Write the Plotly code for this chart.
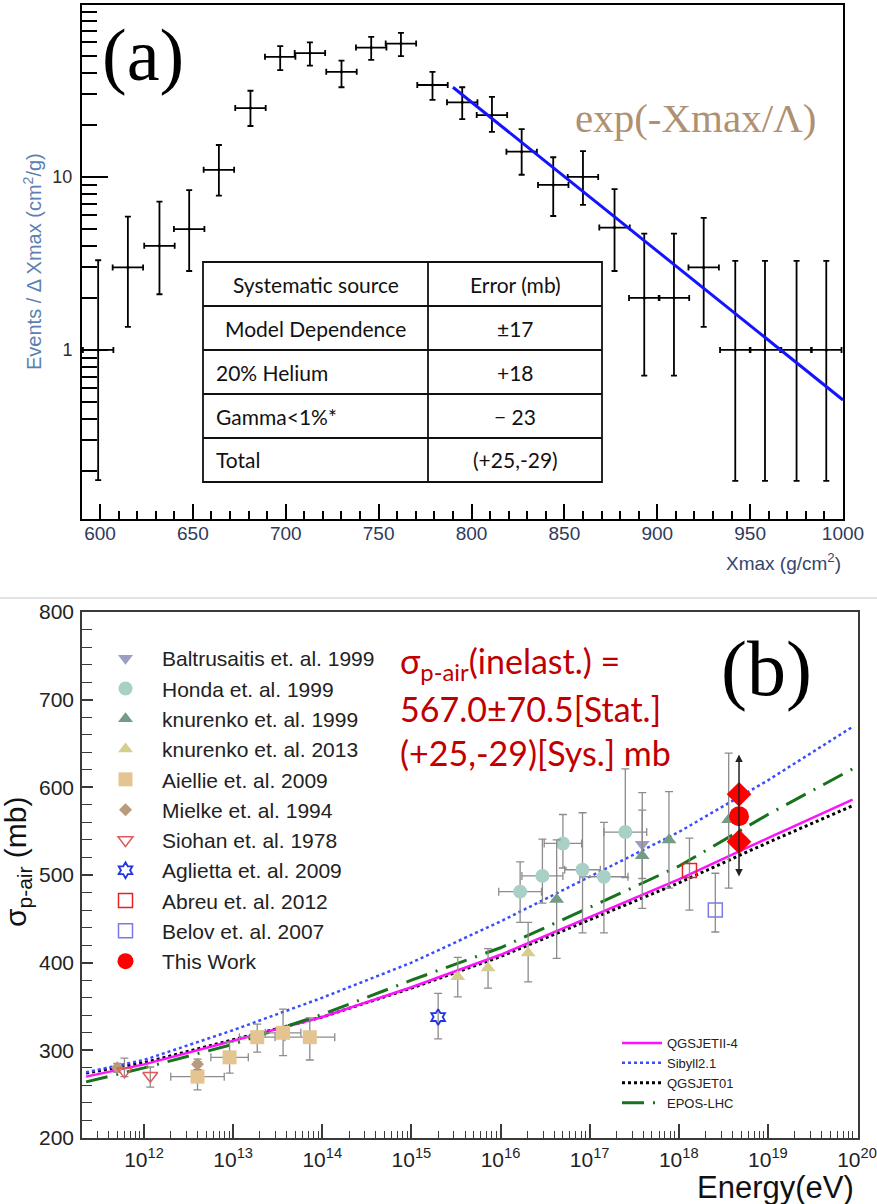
import plotly.graph_objects as go

W, H = 877, 1204
def px(x): return x / W
def py(y): return 1 - y / H

# ---------------- Panel (a) data ----------------
xmax_centers = [599, 615, 632, 648, 664, 681, 697, 713, 730, 746, 762, 779, 795,
                811, 827, 844, 860, 877, 893, 909, 925, 942, 958, 975, 991]
events = [1.0, 3.0, 4.0, 5.0, 11.0, 25.0, 49.5, 52.0, 40.5, 56.0, 59.0, 34.0, 27.0,
          22.8, 14.0, 9.0, 10.0, 5.1, 2.0, 2.0, 3.0, 1.0, 1.0, 1.0, 1.0]
events_hi = [3.3, 5.9, 7.2, 8.4, 15.3, 31.5, 57.0, 60.0, 47.0, 64.5, 68.0, 40.5, 33.0,
             29.0, 18.9, 13.0, 14.1, 8.5, 4.7, 4.7, 5.8, 3.27, 3.27, 3.27, 3.27]
events_lo = [0.177, 1.36, 2.1, 2.86, 7.8, 19.7, 41.5, 44.0, 33.0, 47.5, 50.0, 27.9, 21.6,
             18.2, 10.3, 5.95, 6.9, 2.86, 0.71, 0.71, 1.36, 0.175, 0.175, 0.175, 0.175]
bin_half_width = 8.2
fit_x = [790, 1000]
fit_y = [33.0, 0.514]

table_rows = [["Systematic source", "Error (mb)"],
              ["Model Dependence", "±17"],
              ["20% Helium", "+18"],
              ["Gamma&lt;1%*", "− 23"],
              ["Total", "(+25,-29)"]]
table_col1_align = ["center", "center", "left", "left", "left"]

# ---------------- Panel (b) data ----------------
balt_logE, balt_sig, balt_up, balt_dn = [17.59], [535], [39], [39]
honda_logE = [16.22, 16.47, 16.70, 16.92, 17.16, 17.40]
honda_sig = [481, 499, 536, 506, 498, 549]
honda_up = [34, 42, 33, 65, 62, 72]
honda_dn = [35, 31, 28, 72, 64, 52]
honda_dex = [0.24, 0.23, 0.21, 0.20, 0.27, 0.24]
kn99_logE = [16.63, 17.59, 17.89, 18.56]
kn99_sig = [472, 522, 540, 563]
kn99_up = [68, 72, 55, 76]
kn99_dn = [67, 60, 55, 78]
kn13_logE = [15.52, 15.86, 16.31]
kn13_sig = [384, 394, 411]
kn13_up = [22, 22, 35]
kn13_dn = [23, 23, 33]
aiel_logE = [12.60, 12.96, 13.27, 13.56, 13.86]
aiel_sig = [270, 292, 315, 320, 315]
aiel_up = [17, 17, 15, 27, 22]
aiel_dn = [15, 18, 17, 26, 26]
aiel_dex = [0.30, 0.21, 0.20, 0.20, 0.28]
miel_logE, miel_sig, miel_up, miel_dn = [11.70, 12.60], [280, 284], [5, 6], [5, 6]
sioh_logE, sioh_sig, sioh_up, sioh_dn = [11.78, 12.07], [276, 271], [15, 10], [6, 13]
agli_logE, agli_sig, agli_up, agli_dn = [15.30], [338], [27], [25]
abreu_logE, abreu_sig, abreu_up, abreu_dn = [18.12], [505], [37], [45]
belov_logE, belov_sig, belov_up, belov_dn = [18.41], [460], [42], [25]
this_logE, this_sig, this_stat, this_sys_up, this_sys_dn = 18.676, 567.0, 70.5, 25, 29

model_logE = [11.35, 12, 13, 14, 15, 16, 17, 18, 19, 19.95]
qgsII4 = [270, 284, 311, 338, 372, 409, 452, 495, 542, 586]
sibyll = [275, 289, 323, 360, 400, 447, 498, 549, 608, 669]
qgs01 = [274, 286, 312, 338, 371, 407, 449, 491, 537, 579]
epos = [264, 280, 307, 341, 380, 417, 463, 510, 569, 621]

energy_decades = [12, 13, 14, 15, 16, 17, 18, 19, 20]

fig = go.Figure()

# ---- panel (a) traces
fig.add_trace(go.Scatter(
    x=xmax_centers, y=events, mode="markers",
    marker=dict(size=3, color="black"),
    error_y=dict(type="data", symmetric=False,
                 array=[h - v for h, v in zip(events_hi, events)],
                 arrayminus=[v - l for v, l in zip(events, events_lo)],
                 color="black", thickness=1.8, width=3),
    error_x=dict(type="constant", value=bin_half_width, color="black", thickness=1.8, width=3),
    xaxis="x", yaxis="y", showlegend=False))
fig.add_trace(go.Scatter(x=fit_x, y=fit_y, mode="lines", line=dict(color="#1414ff", width=3),
                         xaxis="x", yaxis="y", showlegend=False))

# ---- panel (b) traces
ERR = "#8c8c8c"
def add_set(name, logE, sig, up, dn, symbol, color, size, rank, dex=None, lw=0):
    E = [10.0 ** v for v in logE]
    tr = dict(x=E, y=sig, mode="markers", name=name,
              marker=dict(symbol=symbol, size=size, color=color, line=dict(width=lw, color=color)),
              error_y=dict(type="data", symmetric=False, array=up, arrayminus=dn,
                           color=ERR, thickness=1.3, width=4),
              xaxis="x2", yaxis="y2", legend="legend", legendrank=rank)
    if dex is not None:
        tr["error_x"] = dict(type="data", symmetric=False,
                             array=[e * (10.0 ** d - 1) for e, d in zip(E, dex)],
                             arrayminus=[e * (1 - 10.0 ** -d) for e, d in zip(E, dex)],
                             color=ERR, thickness=1.3, width=4)
    fig.add_trace(go.Scatter(**tr))

# model curves
mE = [10.0 ** v for v in model_logE]
fig.add_trace(go.Scatter(x=mE, y=qgs01, mode="lines", name="QGSJET01", line=dict(color="black", width=3, dash="3px,3px"),
                         xaxis="x2", yaxis="y2", legend="legend2", legendrank=3))
fig.add_trace(go.Scatter(x=mE, y=qgsII4, mode="lines", name="QGSJETII-4", line=dict(color="#ff10ff", width=2.5),
                         xaxis="x2", yaxis="y2", legend="legend2", legendrank=1))
fig.add_trace(go.Scatter(x=mE, y=sibyll, mode="lines", name="Sibyll2.1", line=dict(color="#3a4cff", width=2.5, dash="dot"),
                         xaxis="x2", yaxis="y2", legend="legend2", legendrank=2))
fig.add_trace(go.Scatter(x=mE, y=epos, mode="lines", name="EPOS-LHC", line=dict(color="#16731c", width=3, dash="22px,9px,2px,9px"),
                         xaxis="x2", yaxis="y2", legend="legend2", legendrank=4))

add_set("Baltrusaitis et. al. 1999", balt_logE, balt_sig, balt_up, balt_dn, "triangle-down", "#9d9dc2", 13, 1)
add_set("Honda et. al. 1999", honda_logE, honda_sig, honda_up, honda_dn, "circle", "#a9d0c6", 14, 2, dex=honda_dex)
add_set("knurenko et. al. 1999", kn99_logE, kn99_sig, kn99_up, kn99_dn, "triangle-up", "#739b85", 13, 3)
add_set("knurenko et. al. 2013", kn13_logE, kn13_sig, kn13_up, kn13_dn, "triangle-up", "#d6ce8c", 13, 4)
add_set("Aiellie et. al. 2009", aiel_logE, aiel_sig, aiel_up, aiel_dn, "square", "#e4c591", 14, 5, dex=aiel_dex)
add_set("Mielke et. al. 1994", miel_logE, miel_sig, miel_up, miel_dn, "diamond", "#b99a7c", 10, 6)
add_set("Siohan et. al. 1978", sioh_logE, sioh_sig, sioh_up, sioh_dn, "triangle-down-open", "#e25a5a", 13, 7, lw=1.5)
add_set("Aglietta et. al. 2009", agli_logE, agli_sig, agli_up, agli_dn, "hexagram-open", "#2234e6", 12, 8, lw=1.8)
add_set("Abreu et. al. 2012", abreu_logE, abreu_sig, abreu_up, abreu_dn, "square-open", "#e42424", 14, 9, lw=1.5)
add_set("Belov et. al. 2007", belov_logE, belov_sig, belov_up, belov_dn, "square-open", "#7a7ae8", 14, 10, lw=1.5)

# This work: systematic markers + point
fig.add_trace(go.Scatter(x=[10.0 ** this_logE] * 2, y=[this_sig + this_sys_up, this_sig - this_sys_dn],
                         mode="markers", marker=dict(symbol="diamond", size=19, color="#ff0000"),
                         xaxis="x2", yaxis="y2", showlegend=False))
fig.add_trace(go.Scatter(x=[10.0 ** this_logE], y=[this_sig], mode="markers", name="This Work",
                         marker=dict(symbol="circle", size=20, color="#ff0000"),
                         xaxis="x2", yaxis="y2", legend="legend", legendrank=11))

# ---------------- layout ----------------
tickfont_a_x = dict(family="Liberation Sans", size=19, color="#2e3a5c")
tickfont_a_y = dict(family="Liberation Sans", size=18, color="#3a2828")
tickfont_b = dict(family="Liberation Sans", size=21, color="#222222")

ymin_vals = [v * m for m in (0.1, 1.0, 10.0) for v in range(2, 10)]
xmin_vals = [k * 10.0 ** n for n in range(11, 20) for k in range(2, 10)]

fig.update_layout(
    width=W, height=H, margin=dict(l=0, r=0, t=0, b=0, autoexpand=False),
    paper_bgcolor="white", plot_bgcolor="white",
    xaxis=dict(domain=[px(82), px(843)], range=[590.3, 1000], anchor="y", automargin=False,
               showline=True, linecolor="black", linewidth=2, mirror=True,
               ticks="inside", ticklen=15, tickwidth=1.5, tickcolor="black",
               tick0=600, dtick=50, tickfont=tickfont_a_x, ticklabelstandoff=-4,
               minor=dict(dtick=10, ticks="inside", ticklen=8, tickwidth=1.5, tickcolor="black", showgrid=False),
               showgrid=False, zeroline=False),
    yaxis=dict(domain=[py(519), py(5)], type="log", range=[-0.977, 1.994], anchor="x", automargin=False,
               showline=True, linecolor="black", linewidth=2, mirror=True,
               ticks="inside", ticklen=26, tickwidth=1.5, tickcolor="black",
               tickvals=[1, 10], ticktext=["1", "10"], tickfont=tickfont_a_y, ticklabelstandoff=4,
               minor=dict(tickvals=ymin_vals, ticks="inside", ticklen=15, tickwidth=1.5, tickcolor="black", showgrid=False),
               showgrid=False, zeroline=False),
    xaxis2=dict(domain=[px(82), px(858)], type="log", range=[11.304, 20.011], anchor="y2", automargin=False,
                showline=True, linecolor="#3a3a3a", linewidth=1.5, mirror=True,
                ticks="inside", ticklen=14, tickwidth=1.5, tickcolor="#3a3a3a",
                tickvals=[10.0 ** d for d in energy_decades],
                ticktext=[f"10<sup>{d}</sup>" for d in energy_decades],
                tickfont=tickfont_b, ticklabelstandoff=2,
                minor=dict(tickvals=xmin_vals, ticks="inside", ticklen=7, tickwidth=1.2, tickcolor="#3a3a3a", showgrid=False),
                showgrid=False, zeroline=False),
    yaxis2=dict(domain=[py(1138), py(612)], range=[200, 800], anchor="x2", automargin=False,
                showline=True, linecolor="#3a3a3a", linewidth=1.5, mirror=True,
                ticks="inside", ticklen=11, tickwidth=1.5, tickcolor="#3a3a3a",
                dtick=100, tickfont=tickfont_b, ticklabelstandoff=2,
                minor=dict(dtick=20, ticks="inside", ticklen=10, tickwidth=1.2, tickcolor="#3a3a3a", showgrid=False),
                showgrid=False, zeroline=False),
    legend=dict(x=px(89), y=py(638), xanchor="left", yanchor="top", traceorder="normal",
                itemwidth=63, bgcolor="rgba(0,0,0,0)",
                font=dict(family="Liberation Sans", size=21, color="#222222")),
    legend2=dict(x=px(617), y=py(1028), xanchor="left", yanchor="top", traceorder="normal",
                 itemwidth=40, bgcolor="rgba(0,0,0,0)",
                 font=dict(family="Liberation Sans", size=13, color="#222222")),
)

shapes = []
annos = []

# separator line between the two panels
shapes.append(dict(type="line", xref="paper", yref="paper", x0=0, x1=1, y0=py(598), y1=py(598),
                   line=dict(color="#d9d9d9", width=1.5)))

# table in panel (a)
tx0, tx1, tsplit, ty0, row_h = 203, 602, 428, 262, 44
ty1 = ty0 + row_h * len(table_rows)
shapes.append(dict(type="rect", xref="paper", yref="paper", x0=px(tx0), x1=px(tx1), y0=py(ty1), y1=py(ty0),
                   fillcolor="white", line=dict(color="#111", width=1.8)))
shapes.append(dict(type="line", xref="paper", yref="paper", x0=px(tsplit), x1=px(tsplit), y0=py(ty1), y1=py(ty0),
                   line=dict(color="#111", width=1.8)))
for i in range(1, len(table_rows)):
    yy = ty0 + row_h * i
    shapes.append(dict(type="line", xref="paper", yref="paper", x0=px(tx0), x1=px(tx1), y0=py(yy), y1=py(yy),
                       line=dict(color="#111", width=1.8)))
tfont = dict(family="Lato", size=21, color="#111")
for i, (c1, c2) in enumerate(table_rows):
    yc = ty0 + row_h * (i + 0.5)
    if table_col1_align[i] == "center":
        annos.append(dict(xref="paper", yref="paper", x=px((tx0 + tsplit) / 2), y=py(yc), text=c1,
                          showarrow=False, xanchor="center", yanchor="middle", font=tfont))
    else:
        annos.append(dict(xref="paper", yref="paper", x=px(tx0 + 11), y=py(yc), text=c1,
                          showarrow=False, xanchor="left", yanchor="middle", font=tfont))
    annos.append(dict(xref="paper", yref="paper", x=px((tsplit + tx1) / 2), y=py(yc), text=c2,
                      showarrow=False, xanchor="center", yanchor="middle", font=tfont))

def label(x, y, text, font, xanchor="center", yanchor="middle", **kw):
    d = dict(xref="paper", yref="paper", x=px(x), y=py(y), text=text, showarrow=False,
             xanchor=xanchor, yanchor=yanchor, font=font)
    d.update(kw)
    return d

# panel (a) labels
annos += [
    label(143, 55, "(a)", dict(family="Liberation Serif", size=74, color="black")),
    label(695, 118, "exp(-Xmax/Λ)", dict(family="Liberation Serif", size=41, color="#b09072")),
    label(32, 262, "Events / Δ Xmax (cm<sup>2</sup>/g)", dict(family="Liberation Sans", size=20, color="#5b80b2"),
          textangle=-90),
    label(843, 562, "Xmax (g/cm<sup>2</sup>)", dict(family="Liberation Sans", size=19, color="#35466e"),
          xanchor="right"),
]

# panel (b) labels
red = dict(family="Lato", size=34, color="#c00000")
annos += [
    label(766, 668, "(b)", dict(family="Liberation Serif", size=78, color="black")),
    label(398, 663, "σ<sub>p-air</sub>(inelast.) =", red, xanchor="left"),
    label(398, 708, f"{this_sig:.1f}±{this_stat:.1f}[Stat.]", red, xanchor="left"),
    label(398, 752, f"(+{this_sys_up},-{this_sys_dn})[Sys.] mb", red, xanchor="left"),
    label(17, 862, "σ<sub>p-air</sub> (mb)", dict(family="Liberation Sans", size=30, color="#111"), textangle=-90),
    label(856, 1187, "Energy(eV)", dict(family="Liberation Sans", size=31, color="#111"), xanchor="right"),
    dict(xref="x2", yref="y2", axref="x2", ayref="y2", x=this_logE, y=this_sig + this_stat,
         ax=this_logE, ay=this_sig - this_stat, text="", showarrow=True, arrowside="end+start",
         arrowhead=2, startarrowhead=2, arrowsize=1, startarrowsize=1, arrowwidth=1.5, arrowcolor="#222",
         standoff=0, startstandoff=0),
]

fig.update_layout(shapes=shapes, annotations=annos)
fig.write_html("out.html", config={"displayModeBar": False},
               post_script="document.body.style.margin='0px';")
